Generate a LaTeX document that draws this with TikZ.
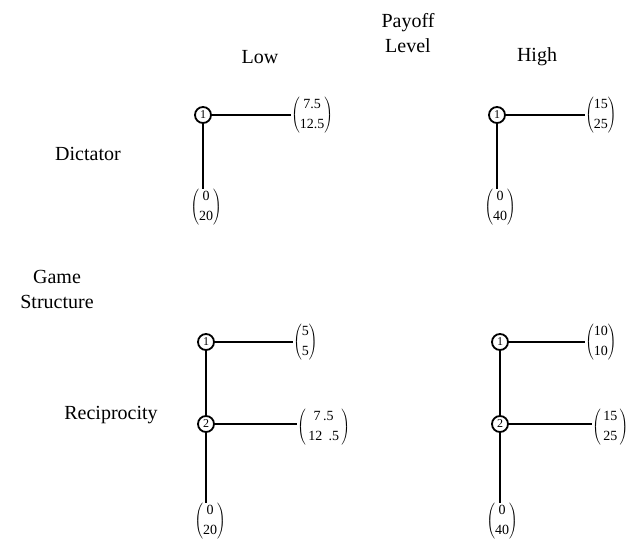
\documentclass[tikz,border=0pt]{standalone}
\usepackage{fontspec}
\setmainfont{Liberation Serif}
\begin{document}
\begin{tikzpicture}[x=1pt,y=-1pt,
  label/.style={font=\fontsize{20}{24}\selectfont, inner sep=0pt, align=center},
  decision/.style={circle, draw, line width=1.8pt, minimum size=16pt, inner sep=0pt,
                   font=\fontsize{12}{13}\selectfont},
  payoff/.style={inner sep=0pt, font=\fontsize{14}{16}\selectfont},
  branch/.style={line width=2pt}]
\useasboundingbox (0,0) rectangle (634,546);

% axis labels
\node[label] (payoff) at (408,33) {Payoff\\[1pt]Level};
\node[label] (low) at (260,57) {Low};
\node[label] (high) at (537,57) {High};
\node[label] (dict) at (88,154) {Dictator};
\node[label] (game) at (57,289) {Game\\[1pt]Structure};
\node[label] (recip) at (111,415) {Reciprocity};

\newcommand{\pvec}[2]{$\left(\begin{tabular}{@{}c@{}}#1\\[4pt]#2\end{tabular}\right)$}

% dictator game, low payoff
\node[decision] (dl1) at (203,115) {1};
\node[payoff, anchor=west] (dlr) at (291,115) {\pvec{7.5}{12.5}};
\node[payoff, anchor=north] (dld) at (206,189) {\pvec{0}{20}};
\draw[branch] (dl1) -- (dlr);
\draw[branch] (dl1) -- (dl1 |- dld.north);

% dictator game, high payoff
\node[decision] (dh1) at (497,115) {1};
\node[payoff, anchor=west] (dhr) at (585,115) {\pvec{15}{25}};
\node[payoff, anchor=north] (dhd) at (500,189) {\pvec{0}{40}};
\draw[branch] (dh1) -- (dhr);
\draw[branch] (dh1) -- (dh1 |- dhd.north);

% reciprocity game, low payoff
\node[decision] (rl1) at (206,342) {1};
\node[decision] (rl2) at (206,424) {2};
\node[payoff, anchor=west] (rlr1) at (293,342) {\pvec{5}{5}};
\node[payoff, anchor=west] (rlr2) at (297,427) {\pvec{\,7\,.5\,}{\,12\;\,.5\,}};
\node[payoff, anchor=north] (rld) at (210,503) {\pvec{0}{20}};
\draw[branch] (rl1) -- (rlr1.west |- rl1);
\draw[branch] (rl1) -- (rl2);
\draw[branch] (rl2) -- (rlr2.west |- rl2);
\draw[branch] (rl2) -- (rl2 |- rld.north);

% reciprocity game, high payoff
\node[decision] (rh1) at (500,342) {1};
\node[decision] (rh2) at (500,424) {2};
\node[payoff, anchor=west] (rhr1) at (585,342) {\pvec{10}{10}};
\node[payoff, anchor=west] (rhr2) at (592,427) {\pvec{\,15\,}{\,25\,}};
\node[payoff, anchor=north] (rhd) at (502,503) {\pvec{0}{40}};
\draw[branch] (rh1) -- (rhr1.west |- rh1);
\draw[branch] (rh1) -- (rh2);
\draw[branch] (rh2) -- (rhr2.west |- rh2);
\draw[branch] (rh2) -- (rh2 |- rhd.north);
\end{tikzpicture}
\end{document}
